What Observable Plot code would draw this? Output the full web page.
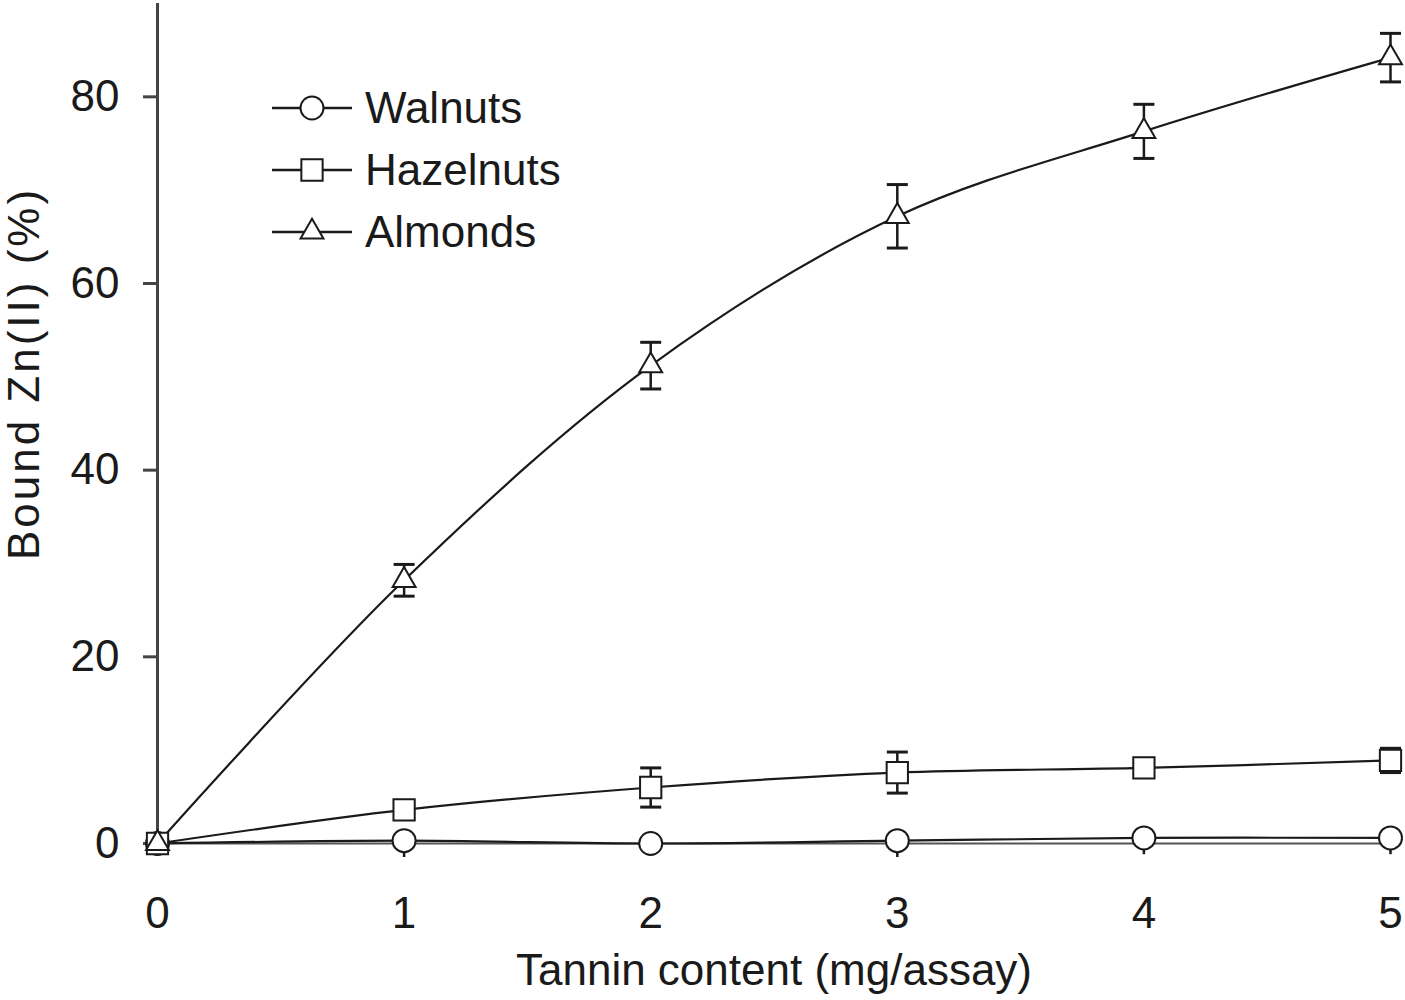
<!DOCTYPE html>
<html>
<head>
<meta charset="utf-8">
<script src="https://cdn.jsdelivr.net/npm/d3@7"></script>
<script src="https://cdn.jsdelivr.net/npm/@observablehq/plot@0.6"></script>
<style>
  html, body { margin: 0; padding: 0; background: #fff; }
  #wrap { position: relative; width: 1405px; height: 1000px; }
  #legend { position: absolute; left: 0; top: 0; }
  .ylab text { letter-spacing: 3px; }
</style>
</head>
<body>
<div id="wrap"></div>
<script>
// ---- data ----
const tannin = [0, 1, 2, 3, 4, 5];
const seriesNames = ["Walnuts", "Hazelnuts", "Almonds"];
const walnuts = [0, 0.3, 0.0, 0.3, 0.6, 0.6];
const walnutsErrLow = [0, 1.8, 0, 1.8, 1.8, 1.8];
const hazelnuts = [0, 3.6, 6.0, 7.6, 8.1, 8.9];
const hazelnutsErr = [0, 0, 2.1, 2.2, 0.9, 1.3];
const almonds = [0, 28.2, 51.2, 67.2, 76.3, 84.2];
const almondsErr = [0, 1.7, 2.5, 3.4, 2.9, 2.6];
const yTicks = [0, 20, 40, 60, 80];
const xTicks = [0, 1, 2, 3, 4, 5];
const xLabel = "Tannin content (mg/assay)";
const yLabel = "Bound Zn(II) (%)";

const FONT = "'Liberation Sans', Arial, sans-serif";
const INK = "#1a1a1a";
const FS = 44;

const rows = [];
tannin.forEach((x, i) => {
  rows.push({series: "Walnuts", x, y: walnuts[i], lo: walnuts[i] - walnutsErrLow[i], hi: walnuts[i], cap: false});
  rows.push({series: "Hazelnuts", x, y: hazelnuts[i], lo: hazelnuts[i] - hazelnutsErr[i], hi: hazelnuts[i] + hazelnutsErr[i], cap: hazelnutsErr[i] > 0});
  rows.push({series: "Almonds", x, y: almonds[i], lo: almonds[i] - almondsErr[i], hi: almonds[i] + almondsErr[i], cap: almondsErr[i] > 0});
});
const caps = rows.filter(d => d.cap).flatMap(d => [{x: d.x, y: d.lo}, {x: d.x, y: d.hi}]);

const capSymbol = {
  draw(context, size) {
    const r = Math.sqrt(size / Math.PI);
    context.moveTo(-r, 0);
    context.lineTo(r, 0);
  }
};

const chart = Plot.plot({
  width: 1405,
  height: 1000,
  marginLeft: 157,
  marginRight: 15,
  marginTop: 3,
  marginBottom: 157,
  style: {fontFamily: FONT, fontSize: FS + "px", color: INK, background: "#fff", overflow: "visible"},
  x: {domain: [0, 5]},
  y: {domain: [0, 90]},
  marks: [
    Plot.ruleY([0], {stroke: "#555", strokeWidth: 2}),
    Plot.ruleX([0], {y1: 0, y2: 90, stroke: "#444", strokeWidth: 3}),
    Plot.axisY({ticks: yTicks, tickSize: 14, tickPadding: 24, stroke: "#444", strokeWidth: 3,
      label: null, fontSize: FS}),
    Plot.text([yLabel], {frameAnchor: "left", textAnchor: "middle", lineAnchor: "middle", rotate: -90,
      dx: -133, dy: -50, fontSize: FS, fill: INK, className: "ylab"}),
    Plot.axisX({ticks: xTicks, tickFormat: "d", tickSize: 0, tickPadding: 53, label: xLabel,
      labelAnchor: "center", labelOffset: 141, labelArrow: "none", fontSize: FS}),
    Plot.line(rows, {x: "x", y: "y", z: "series", curve: "catmull-rom", stroke: INK, strokeWidth: 2.2}),
    Plot.ruleX(rows, {x: "x", y1: "lo", y2: "hi", stroke: INK, strokeWidth: 2.5}),
    Plot.dot(caps, {x: "x", y: "y", symbol: capSymbol, r: 10.5, stroke: INK, strokeWidth: 3}),
    Plot.dot(rows.filter(d => d.series === "Walnuts"), {x: "x", y: "y", symbol: "circle", r: 11.5, fill: "white", stroke: INK, strokeWidth: 2}),
    Plot.dot(rows.filter(d => d.series === "Hazelnuts"), {x: "x", y: "y", symbol: "square", r: 12, fill: "white", stroke: INK, strokeWidth: 2}),
    Plot.dot(rows.filter(d => d.series === "Almonds"), {x: "x", y: "y", symbol: "triangle", r: 8.5, fill: "white", stroke: INK, strokeWidth: 2})
  ]
});
document.getElementById("wrap").appendChild(chart);

// legend overlay (drawn with d3 symbols)
const legend = d3.select("#wrap").append("svg").attr("id", "legend")
  .attr("width", 600).attr("height", 280);
const syms = {Walnuts: [d3.symbolCircle, 11.5], Hazelnuts: [d3.symbolSquare, 12], Almonds: [d3.symbolTriangle, 8.5]};
seriesNames.forEach((name, i) => {
  const cy = 108 + i * 62;
  const g = legend.append("g");
  g.append("line").attr("x1", 272).attr("x2", 352).attr("y1", cy).attr("y2", cy)
    .attr("stroke", INK).attr("stroke-width", 2.5);
  const [sym, r] = syms[name];
  g.append("path").attr("d", d3.symbol(sym, Math.PI * r * r)())
    .attr("transform", `translate(312,${cy})`)
    .attr("fill", "white").attr("stroke", INK).attr("stroke-width", 2);
  g.append("text").attr("x", 365).attr("y", cy).attr("dy", "0.35em")
    .attr("font-family", FONT).attr("font-size", FS).attr("fill", INK).text(name);
});
</script>
</body>
</html>
